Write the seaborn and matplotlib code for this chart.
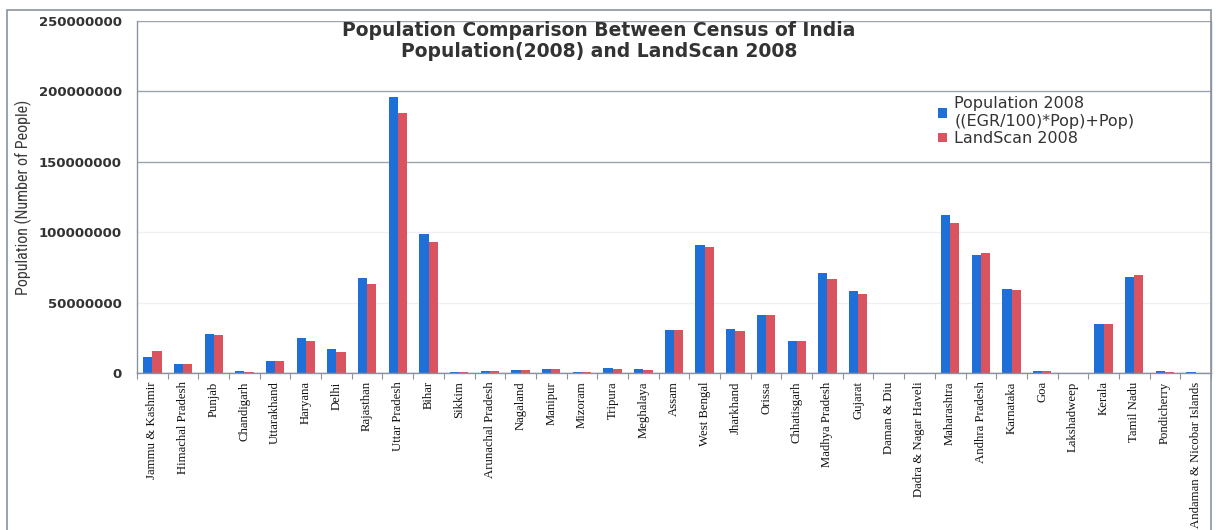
import matplotlib
matplotlib.use("Agg")
import matplotlib.pyplot as plt
from matplotlib.patches import Rectangle
from matplotlib.ticker import FixedLocator
import numpy as np
import pandas as pd
import seaborn as sns

states = [
    "Jammu & Kashmir", "Himachal Pradesh", "Punjab", "Chandigarh", "Uttarakhand",
    "Haryana", "Delhi", "Rajasthan", "Uttar Pradesh", "Bihar", "Sikkim",
    "Arunachal Pradesh", "Nagaland", "Manipur", "Mizoram", "Tripura", "Meghalaya",
    "Assam", "West Bengal", "Jharkhand", "Orissa", "Chhatisgarh", "Madhya Pradesh",
    "Gujarat", "Daman & Diu", "Dadra & Nagar Haveli", "Maharashtra", "Andhra Pradesh",
    "Karnataka", "Goa", "Lakshadweep", "Kerala", "Tamil Nadu", "Pondicherry",
    "Andaman & Nicobar Islands",
]

# Census-based 2008 estimate: ((EGR/100)*Pop)+Pop
census_2008 = [
    11.4e6, 6.4e6, 27.4e6, 1.1e6, 8.8e6,
    24.8e6, 17.3e6, 67.2e6, 196.0e6, 98.9e6, 0.6e6,
    1.2e6, 2.3e6, 2.8e6, 1.0e6, 3.5e6, 2.5e6,
    30.3e6, 91.1e6, 31.2e6, 40.9e6, 22.9e6, 71.0e6,
    58.5e6, 0.2e6, 0.3e6, 112.4e6, 83.5e6,
    59.6e6, 1.7e6, 0.07e6, 34.5e6, 67.9e6, 1.1e6,
    0.4e6,
]

# LandScan 2008 totals
landscan_2008 = [
    15.8e6, 6.4e6, 26.7e6, 1.0e6, 8.8e6,
    22.7e6, 15.1e6, 62.9e6, 184.6e6, 93.2e6, 0.5e6,
    1.1e6, 1.8e6, 2.5e6, 0.9e6, 3.0e6, 2.0e6,
    30.3e6, 89.5e6, 29.5e6, 40.9e6, 22.9e6, 67.0e6,
    56.1e6, 0.2e6, 0.3e6, 106.5e6, 85.2e6,
    58.7e6, 1.6e6, 0.06e6, 35.0e6, 69.8e6, 1.0e6,
    0.3e6,
]

series_names = ["Population 2008\n((EGR/100)*Pop)+Pop)", "LandScan 2008"]
yticks = [0, 50000000, 100000000, 150000000, 200000000, 250000000]

df = pd.DataFrame({
    "State": states * 2,
    "Population": census_2008 + landscan_2008,
    "Series": [series_names[0]] * len(states) + [series_names[1]] * len(states),
})

sns.set_theme(style="white")
plt.rcParams["font.family"] = ["DejaVu Sans"]

fig = plt.figure(figsize=(12.2, 5.3), dpi=100)
ax = fig.add_axes([137 / 1220, 1 - 373 / 530, (1211 - 137) / 1220, (373 - 21) / 530])

sns.barplot(
    data=df, x="State", y="Population", hue="Series",
    hue_order=series_names, order=states,
    palette=["#1f6fd8", "#d9545f"], width=0.6, saturation=1,
    edgecolor="none", linewidth=0, ax=ax,
)

ax.set_ylim(0, 250000000)
ax.set_xlim(-0.5, len(states) - 0.5)
ax.set_yticks(yticks)
ax.set_yticklabels([str(v) for v in yticks], fontsize=9.5, fontweight="bold",
                   color="#333333", family=["DejaVu Sans"])
ax.tick_params(axis="y", length=0, pad=11)

ax.set_xticks(range(len(states)))
ax.set_xticklabels(states, rotation=90, fontsize=9.2,
                   family=["Liberation Serif", "DejaVu Serif"], color="#111111")
ax.tick_params(axis="x", which="major", length=0, pad=6)
ax.xaxis.set_minor_locator(FixedLocator(np.arange(-0.5, len(states), 1.0)))
ax.tick_params(axis="x", which="minor", bottom=True, length=4, width=0.8, color="#8a94a0")

ax.set_xlabel("")
ax.set_ylabel("Population (Number of People)", fontsize=11.5,
              family=["Roboto Condensed", "Liberation Sans Narrow", "Roboto", "DejaVu Sans"],
              color="#3a3a3a", labelpad=5)

# horizontal gridlines; the two lowest are very faint
ax.set_axisbelow(True)
ax.yaxis.grid(True, color="#9aa4ae", linewidth=1.0)
for val, gl in zip(yticks, ax.get_ygridlines()):
    if val in (50000000, 100000000):
        gl.set_color("#eef0f3")

for side in ("left", "bottom", "right"):
    ax.spines[side].set_color("#8a94a0")
    ax.spines[side].set_linewidth(1.0)
ax.spines["top"].set_visible(False)

ax.text(0.43, 1.0, "Population Comparison Between Census of India\nPopulation(2008) and LandScan 2008",
        transform=ax.transAxes, ha="center", va="top", fontsize=13.5,
        fontweight="bold", color="#333333", linespacing=1.15)

handles, labels = ax.get_legend_handles_labels()
ax.legend(handles, labels, loc="upper left", bbox_to_anchor=(924 / 1220, 1 - 82 / 530),
          bbox_transform=fig.transFigure, frameon=False, fontsize=11.5,
          handlelength=0.55, handleheight=0.55, handletextpad=0.45,
          labelspacing=0.15, labelcolor="#333333")

# outer chart frame
fig.patches.append(Rectangle((7 / 1220, -0.02), (1211 - 7) / 1220, 1 - 10 / 530 + 0.02,
                             transform=fig.transFigure, fill=False,
                             edgecolor="#8a94a0", linewidth=1.2))

fig.savefig("out.png", dpi=100, facecolor="white")
